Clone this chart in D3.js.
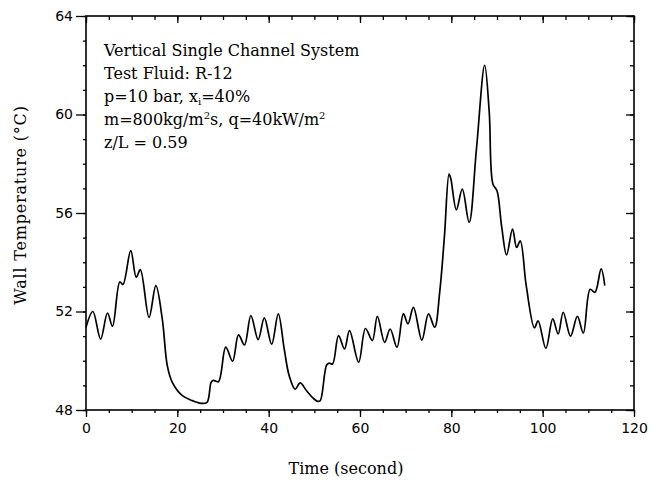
<!DOCTYPE html>
<html>
<head>
<meta charset="utf-8">
<script src="https://cdn.jsdelivr.net/npm/d3@7"></script>
<style>
  html, body { margin: 0; padding: 0; background: #fff; }
  svg { display: block; }
</style>
</head>
<body>
<svg id="chart" width="651" height="484"></svg>
<script>
// Wall temperature history at z/L = 0.59
const timeSec = [
  0.0, 1.5, 3.2, 4.7, 5.8, 7.4, 8.1, 9.8, 11.0, 11.9, 13.8, 15.3, 16.7, 17.8, 18.9,
  21.1, 23.3, 25.2, 26.5, 27.4, 27.9, 29.0, 30.6, 32.1, 33.4, 34.7, 36.1, 37.7, 39.05,
  40.65, 42.1, 43.4, 44.5, 45.8, 46.9, 48.3, 49.8, 50.75, 51.3, 52.7, 53.3, 54.0, 55.3,
  56.6, 57.7, 59.7, 61.2, 62.7, 63.8, 65.4, 66.6, 68.1, 69.5, 70.5, 71.7, 73.55, 75.0,
  76.35, 77.45, 78.5, 79.5, 79.9, 81.1, 82.4, 83.9, 85.5, 87.3, 88.3, 89.1, 90.0, 91.0,
  92.1, 93.4, 94.3, 95.1, 96.4, 98.2, 99.0, 100.7, 102.2, 103.4, 104.5, 106.1, 107.6,
  108.9, 110.4, 111.45, 112.8, 113.6
];
const wallTemp = [
  51.36, 52.0, 50.88, 51.94, 51.4, 53.2, 53.1, 54.47, 53.39, 53.7, 51.76, 53.05, 51.7, 49.8, 49.12,
  48.58, 48.38, 48.27, 48.31, 49.12, 49.2, 49.15, 50.55, 49.98, 51.05, 50.64, 51.83, 50.86, 51.74,
  50.67, 51.9, 50.48, 49.39, 48.85, 49.1, 48.78, 48.47, 48.35, 48.38, 49.83, 49.9, 49.87, 51.02,
  50.48, 51.22, 49.94, 51.31, 50.82, 51.8, 50.75, 51.29, 50.55, 51.9, 51.5, 52.17, 50.84, 51.9,
  51.36, 52.78, 55.08, 57.58, 57.38, 56.13, 56.97, 55.62, 58.6, 62.0, 60.09, 57.18, 56.9, 55.48,
  54.3, 55.35, 54.6, 54.87, 53.05, 51.34, 51.62, 50.5, 51.7, 51.09, 51.97, 51.0, 51.8,
  51.13, 52.9, 52.78, 53.73, 53.05
];

const xMajorTicks = [0, 20, 40, 60, 80, 100, 120];
const xMinorTicks = d3.range(0, 121, 5);
const yMajorTicks = [48, 52, 56, 60, 64];
const yMinorTicks = d3.range(48, 65, 1);

const noteLines = [
  "Vertical Single Channel System",
  "Test Fluid: R-12"
];

const svg = d3.select("#chart");
const plotL = 86, plotR = 634, plotT = 16, plotB = 410;

const x = d3.scaleLinear().domain([0, 120]).range([plotL, plotR]);
const y = d3.scaleLinear().domain([48, 64]).range([plotB, plotT]);

const tickFont = "'DejaVu Sans', sans-serif";
const textFont = "'DejaVu Serif', serif";

function styleAxis(g) {
  g.select(".domain").remove();
  g.selectAll(".tick line").attr("stroke", "#000").attr("stroke-width", 1.3);
  g.selectAll(".tick text").attr("fill", "#000")
    .style("font-family", tickFont).style("font-size", "14px");
}

// bottom axis: minor + labelled major ticks pointing outward
svg.append("g").attr("transform", `translate(0,${plotB})`)
  .call(d3.axisBottom(x).tickValues(xMinorTicks).tickSize(3).tickFormat(""))
  .call(styleAxis);
svg.append("g").attr("transform", `translate(0,${plotB})`)
  .call(d3.axisBottom(x).tickValues(xMajorTicks).tickSize(7).tickPadding(6).tickFormat(d3.format("d")))
  .call(styleAxis);

// top axis: inward ticks only
svg.append("g").attr("transform", `translate(0,${plotT})`)
  .call(d3.axisTop(x).tickValues(xMinorTicks).tickSize(-4).tickFormat(""))
  .call(styleAxis);
svg.append("g").attr("transform", `translate(0,${plotT})`)
  .call(d3.axisTop(x).tickValues(xMajorTicks).tickSize(-7).tickFormat(""))
  .call(styleAxis);

// left axis
svg.append("g").attr("transform", `translate(${plotL},0)`)
  .call(d3.axisLeft(y).tickValues(yMinorTicks).tickSize(3).tickFormat(""))
  .call(styleAxis);
svg.append("g").attr("transform", `translate(${plotL},0)`)
  .call(d3.axisLeft(y).tickValues(yMajorTicks).tickSize(10).tickPadding(3).tickFormat(d3.format("d")))
  .call(styleAxis);

// right axis: inward ticks only
svg.append("g").attr("transform", `translate(${plotR},0)`)
  .call(d3.axisRight(y).tickValues(yMinorTicks).tickSize(-4).tickFormat(""))
  .call(styleAxis);
svg.append("g").attr("transform", `translate(${plotR},0)`)
  .call(d3.axisRight(y).tickValues(yMajorTicks).tickSize(-8).tickFormat(""))
  .call(styleAxis);

// plot frame
svg.append("rect")
  .attr("x", plotL).attr("y", plotT)
  .attr("width", plotR - plotL).attr("height", plotB - plotT)
  .attr("fill", "none").attr("stroke", "#000").attr("stroke-width", 1.6);

// temperature trace
const pts = timeSec.map((t, i) => [t, wallTemp[i]]);
svg.append("path")
  .datum(pts)
  .attr("fill", "none")
  .attr("stroke", "#000")
  .attr("stroke-width", 1.7)
  .attr("stroke-linejoin", "round")
  .attr("d", d3.line().x(d => x(d[0])).y(d => y(d[1])).curve(d3.curveCatmullRom.alpha(0.5)));

// annotation block
const noteX = 104, noteY = 56, lh = 23;
const note = svg.append("text")
  .attr("x", noteX).attr("y", noteY)
  .style("font-family", textFont).style("font-size", "16px").attr("fill", "#000");
note.append("tspan").attr("x", noteX).attr("y", noteY).text(noteLines[0]);
note.append("tspan").attr("x", noteX).attr("y", noteY + lh).text(noteLines[1]);
note.append("tspan").attr("x", noteX).attr("y", noteY + 2 * lh).text("p=10 bar, x");
note.append("tspan").attr("dy", 3).style("font-size", "10px").text("i");
note.append("tspan").attr("dy", -3).text("=40%");
note.append("tspan").attr("x", noteX).attr("y", noteY + 3 * lh).text("m=800kg/m");
note.append("tspan").attr("dy", -6).style("font-size", "10px").text("2");
note.append("tspan").attr("dy", 6).text("s, q=40kW/m");
note.append("tspan").attr("dy", -6).style("font-size", "10px").text("2");
note.append("tspan").attr("x", noteX).attr("y", noteY + 4 * lh).text("z/L = 0.59");

// axis titles
svg.append("text")
  .attr("x", 346).attr("y", 474)
  .attr("text-anchor", "middle")
  .style("font-family", textFont).style("font-size", "16px")
  .text("Time (second)");

svg.append("text")
  .attr("transform", "translate(26,205) rotate(-90)")
  .attr("text-anchor", "middle")
  .style("font-family", textFont).style("font-size", "16px")
  .style("letter-spacing", "0.8px")
  .text("Wall Temperature (°C)");
</script>
</body>
</html>
